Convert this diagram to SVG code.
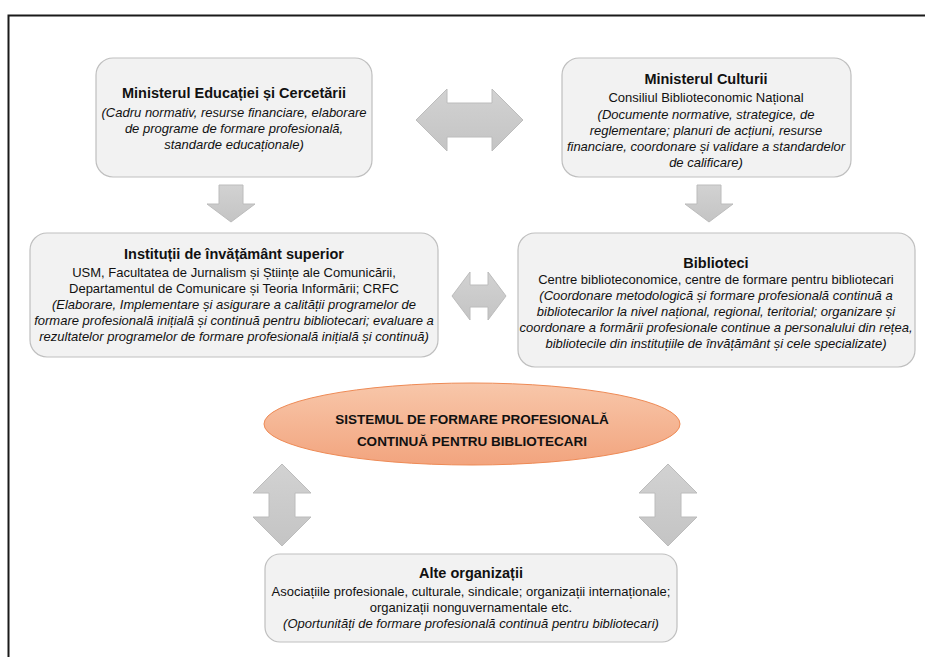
<svg xmlns="http://www.w3.org/2000/svg" width="925" height="657" viewBox="0 0 925 657">
<defs>
<linearGradient id="gArrow" x1="0" y1="0" x2="0" y2="1">
<stop offset="0" stop-color="#d2d2d2"/><stop offset="1" stop-color="#c4c4c4"/>
</linearGradient>
<linearGradient id="gEll" x1="0" y1="0" x2="0" y2="1">
<stop offset="0" stop-color="#f8c7aa"/><stop offset="1" stop-color="#f2a47e"/>
</linearGradient>
<style>
.box{fill:#f2f2f2;stroke:#bfbfbf;stroke-width:1.2}
.arr{fill:url(#gArrow);stroke:#bcbcbc;stroke-width:1}
text{font-family:"Liberation Sans",Arial,sans-serif;fill:#111;text-anchor:middle}
.t{font-size:14.5px;font-weight:bold}
.b{font-size:13px}
.i{font-size:13px;font-style:italic}
.e{font-size:13.5px;font-weight:bold}
</style>
</defs>
<rect x="8.5" y="15.5" width="940" height="670" fill="#ffffff" stroke="#1a1a1a" stroke-width="2"/>

<g id="connectors">
<path class="arr" d="M416,120 L447,89 L447,103 L492,103 L492,89 L523,120 L492,151 L492,137 L447,137 L447,151 Z"/>
<path class="arr" d="M219,185 L243,185 L243,204 L255,204 L231,222 L207,204 L219,204 Z"/>
<path class="arr" d="M697,185 L721,185 L721,204 L733,204 L709,222 L685,204 L697,204 Z"/>
<path class="arr" d="M452,296 L470,272 L470,285 L488,285 L488,272 L506,296 L488,320 L488,307 L470,307 L470,320 Z"/>
<path class="arr" d="M282,464 L311,493 L295,493 L295,517 L311,517 L282,546 L253,517 L269,517 L269,493 L253,493 Z"/>
<path class="arr" d="M668,464 L697,493 L681,493 L681,517 L697,517 L668,546 L639,517 L655,517 L655,493 L639,493 Z"/>
</g>

<g id="node-min-educatiei">
<rect class="box" x="96" y="58" width="276" height="119" rx="17"/>
<text class="t" x="234" y="98">Ministerul Educației și Cercetării</text>
<text class="i" x="234" y="117">(Cadru normativ, resurse financiare, elaborare</text>
<text class="i" x="234" y="133">de programe de formare profesională,</text>
<text class="i" x="234" y="149">standarde educaționale)</text>
</g>

<g id="node-min-culturii">
<rect class="box" x="562" y="58" width="289" height="119" rx="17"/>
<text class="t" x="706" y="84">Ministerul Culturii</text>
<text class="b" x="706" y="102">Consiliul Biblioteconomic Național</text>
<text class="i" x="706" y="119">(Documente normative, strategice, de</text>
<text class="i" x="706" y="135">reglementare; planuri de acțiuni, resurse</text>
<text class="i" x="706" y="151">financiare, coordonare și validare a standardelor</text>
<text class="i" x="706" y="167">de calificare)</text>
</g>

<g id="node-institutii">
<rect class="box" x="30" y="233" width="408" height="124" rx="17"/>
<text class="t" x="234" y="259">Instituții de învățământ superior</text>
<text class="b" x="234" y="277">USM, Facultatea de Jurnalism și Științe ale Comunicării,</text>
<text class="b" x="234" y="293">Departamentul de Comunicare și Teoria Informării; CRFC</text>
<text class="i" x="234" y="309">(Elaborare, Implementare și asigurare a calității programelor de</text>
<text class="i" x="234" y="325">formare profesională inițială și continuă pentru bibliotecari; evaluare a</text>
<text class="i" x="234" y="341">rezultatelor programelor de formare profesională inițială și continuă)</text>
</g>

<g id="node-biblioteci">
<rect class="box" x="518" y="233" width="397" height="134" rx="17"/>
<text class="t" x="716" y="268">Biblioteci</text>
<text class="b" x="716" y="284">Centre biblioteconomice, centre de formare pentru bibliotecari</text>
<text class="i" x="716" y="300">(Coordonare metodologică și formare profesională continuă a</text>
<text class="i" x="716" y="316">bibliotecarilor la nivel național, regional, teritorial; organizare și</text>
<text class="i" x="716" y="332">coordonare a formării profesionale continue a personalului din rețea,</text>
<text class="i" x="716" y="348">bibliotecile din instituțiile de învățământ și cele specializate)</text>
</g>

<g id="node-sistem">
<ellipse cx="472" cy="424" rx="208" ry="41" fill="url(#gEll)" stroke="#ee8a55" stroke-width="1"/>
<text class="e" x="472" y="424">SISTEMUL DE FORMARE PROFESIONALĂ</text>
<text class="e" x="472" y="446">CONTINUĂ PENTRU BIBLIOTECARI</text>
</g>

<g id="node-alte">
<rect class="box" x="265" y="554" width="412" height="88" rx="15"/>
<text class="t" x="471" y="578">Alte organizații</text>
<text class="b" x="471" y="596">Asociațiile profesionale, culturale, sindicale; organizații internaționale;</text>
<text class="b" x="471" y="612">organizații nonguvernamentale etc.</text>
<text class="i" x="471" y="628">(Oportunități de formare profesională continuă pentru bibliotecari)</text>
</g>
</svg>
